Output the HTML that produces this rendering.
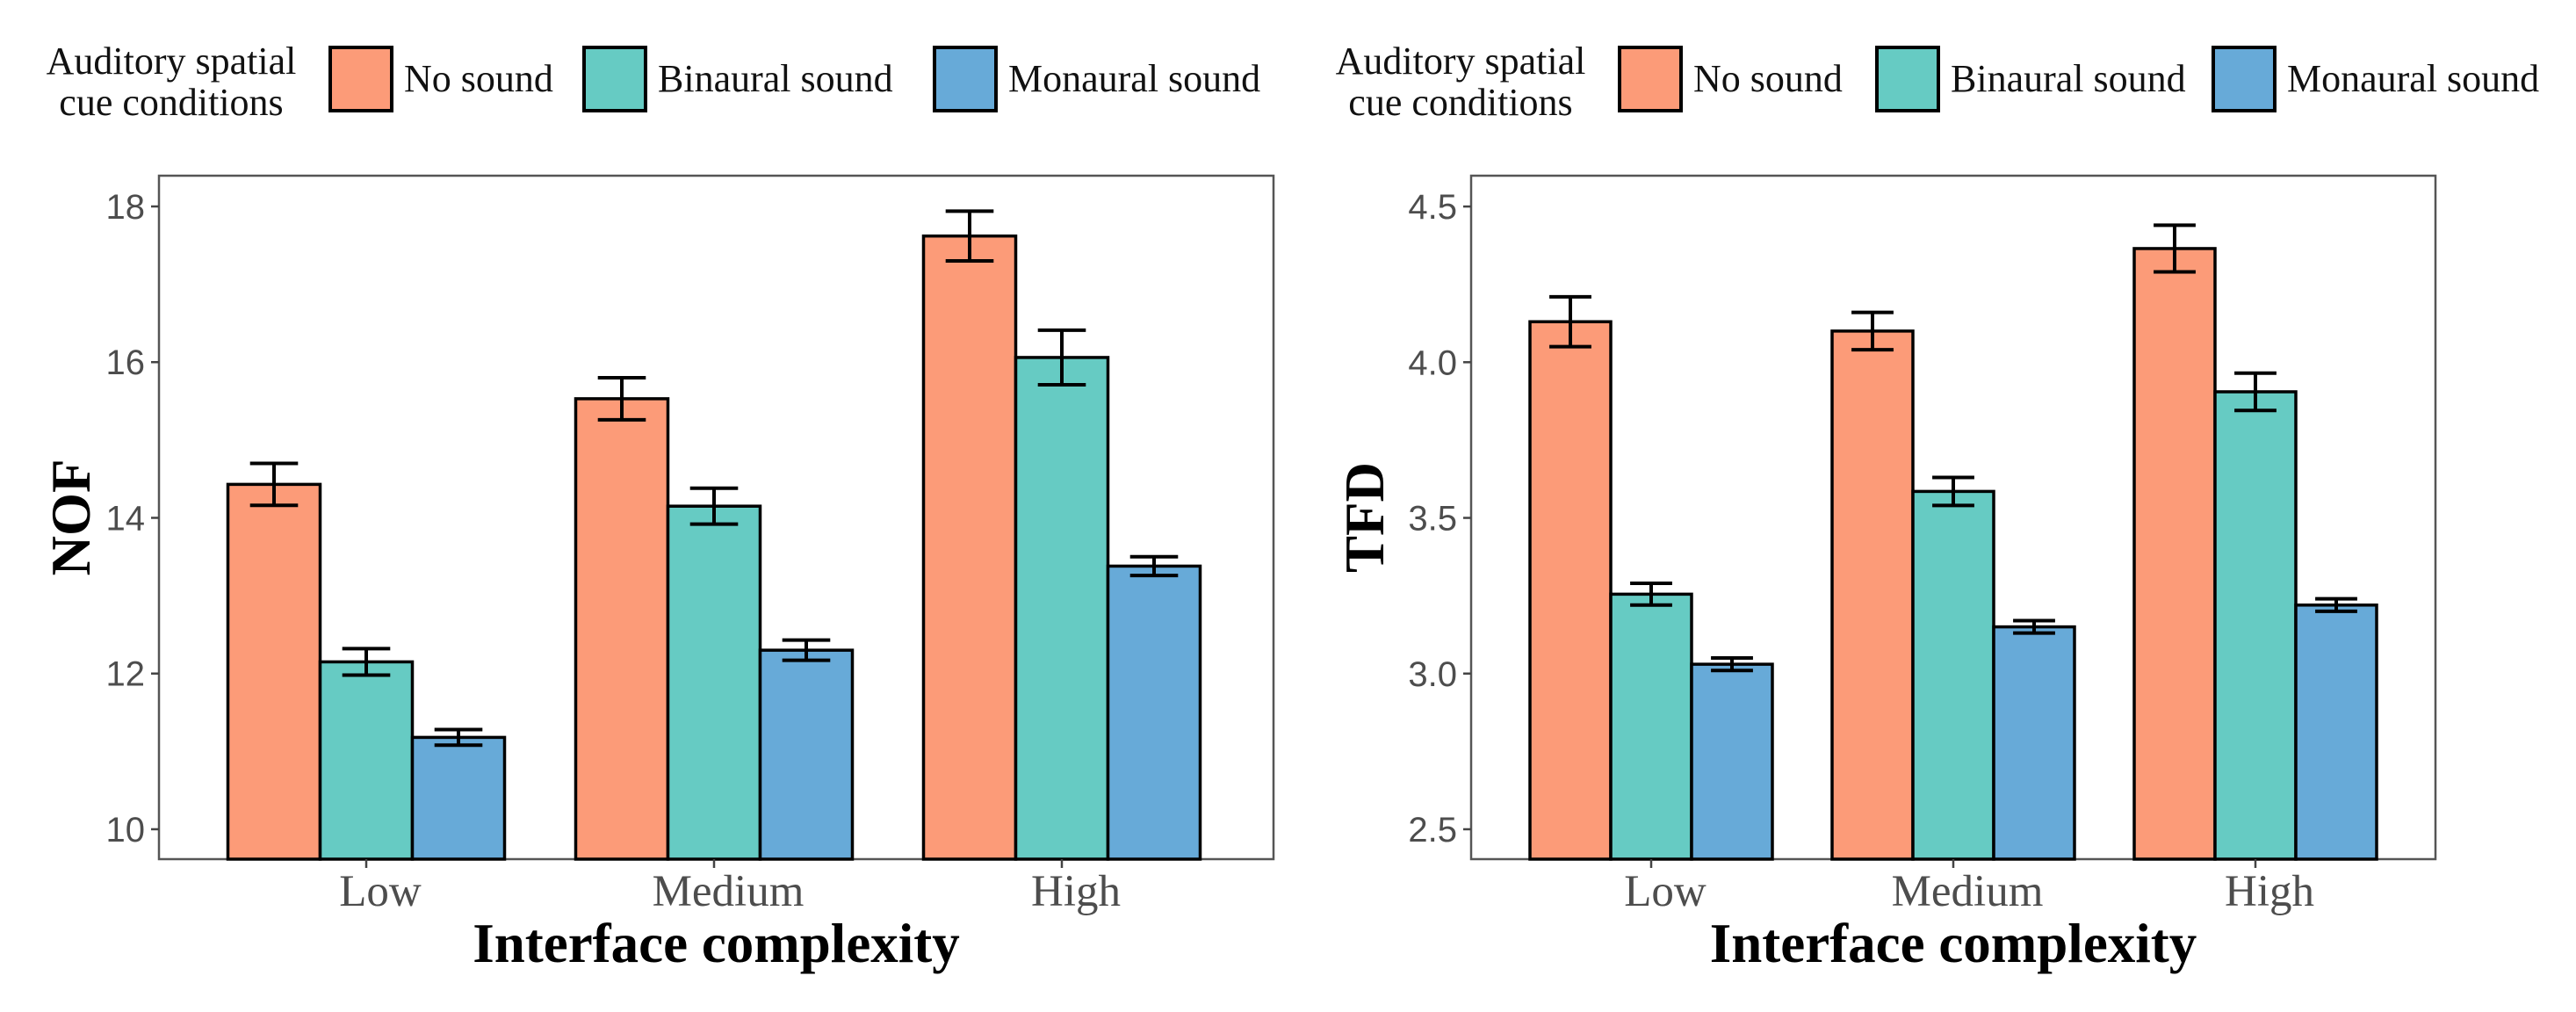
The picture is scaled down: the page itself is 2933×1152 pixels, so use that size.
<!DOCTYPE html>
<html><head><meta charset="utf-8">
<style>
html,body{margin:0;padding:0;background:#fff;}
svg{display:block;}
.lg{font-family:"Liberation Serif",serif;font-size:44px;fill:#111;}
.tk{font-family:"Liberation Sans Narrow","Liberation Sans",sans-serif;font-size:40px;fill:#4d4d4d;}
.xl{font-family:"Liberation Serif",serif;font-size:51px;fill:#4d4d4d;}
.ti{font-family:"Liberation Serif",serif;font-size:63px;font-weight:bold;fill:#000;}
</style></head>
<body>
<svg id="chart" width="2933" height="1152" viewBox="0 0 2933 1152" xmlns="http://www.w3.org/2000/svg"></svg>
<script>
const categories = ["Low","Medium","High"];
const seriesNames = ["No sound","Binaural sound","Monaural sound"];
const nofMeans = [[14.43,15.53,17.62],[12.15,14.15,16.06],[11.18,12.30,13.38]];
const nofErr = [[0.27,0.27,0.32],[0.17,0.23,0.35],[0.10,0.13,0.12]];
const nofTicks = [10,12,14,16,18];
const tfdMeans = [[4.13,4.10,4.365],[3.255,3.585,3.905],[3.03,3.15,3.22]];
const tfdErr = [[0.08,0.06,0.075],[0.035,0.045,0.06],[0.02,0.02,0.02]];
const tfdTicks = [2.5,3.0,3.5,4.0,4.5];
const tfdTickLabels = ["2.5","3.0","3.5","4.0","4.5"];
const nofTickLabels = ["10","12","14","16","18"];

const colors = ["#fc9b78","#66cbc3","#67aad8"];
const NS = "http://www.w3.org/2000/svg";
const svg = document.getElementById("chart");
function mk(tag, attrs, parent){
  const e = document.createElementNS(NS, tag);
  for (const k in attrs) e.setAttribute(k, attrs[k]);
  (parent||svg).appendChild(e);
  return e;
}

function panel(cfg){
  const g = mk("g", {});
  
  
  const top=200, bot=978;
  const y = v => bot - (v - cfg.ymin) / (cfg.ymax - cfg.ymin) * (bot - top);
  const xc = i => cfg.x0 + i * cfg.step;
  const lt = mk("text", {x: cfg.legX + 150, y: 84, "text-anchor":"middle", class:"lg"}, g);
  
  
  lt.textContent = "Auditory spatial";
  const lt2 = mk("text", {x: cfg.legX + 150, y: 131, "text-anchor":"middle", class:"lg"}, g);
  
  
  lt2.textContent = "cue conditions";
  seriesNames.forEach((s, k) => {
    const r = mk("rect", {x: cfg.legBoxes[k], y: 54, width: 70, height: 72, fill: colors[k], stroke:"#000", "stroke-width":4}, g);
    
    
    const t = mk("text", {x: cfg.legBoxes[k] + 84, y: 104, class:"lg"}, g);
    
    
    t.textContent = s;
  });
  const box = mk("rect", {x: cfg.bx0, y: top, width: cfg.bx1 - cfg.bx0, height: bot - top, fill:"none", stroke:"#555", "stroke-width":2.5}, g);
  
  
  cfg.ticks.forEach((v, i) => {
    const l = mk("line", {x1: cfg.bx0 - 9, x2: cfg.bx0, y1: y(v), y2: y(v), stroke:"#444", "stroke-width":2.5}, g);
    
    
    const t = mk("text", {x: cfg.bx0 - 16, y: y(v) + 14, "text-anchor":"end", class:"tk"}, g);
    
    
    t.textContent = cfg.tickLabels[i];
  });
  categories.forEach((c, i) => {
    seriesNames.forEach((s, k) => {
      const bx = xc(i) + (k - 1.5) * cfg.bw;
      const v = cfg.means[k][i], e = cfg.err[k][i];
      const b = mk("rect", {x: bx, y: y(v), width: cfg.bw, height: bot - y(v), fill: colors[k], stroke:"#000", "stroke-width":3.5}, g);
      
      
      const cx = bx + cfg.bw / 2, hw = cfg.bw * 0.26;
      const eb = mk("path", {d: `M${cx-hw},${y(v+e)}H${cx+hw}M${cx},${y(v+e)}V${y(v-e)}M${cx-hw},${y(v-e)}H${cx+hw}`, stroke:"#000", "stroke-width":4, fill:"none"}, g);
      
      
    });
    const tk = mk("line", {x1: xc(i), x2: xc(i), y1: bot, y2: bot + 10, stroke:"#444", "stroke-width":2.5}, g);
    
    
    const t = mk("text", {x: xc(i) + 16, y: 1031, "text-anchor":"middle", class:"xl"}, g);
    
    
    t.textContent = c;
  });
  const xt = mk("text", {x: (cfg.bx0 + cfg.bx1) / 2, y: 1095, "text-anchor":"middle", class:"ti"}, g);
  
  
  xt.textContent = "Interface complexity";
  const yt = mk("text", {x: cfg.ytx, y: (top + bot) / 2, "text-anchor":"middle", class:"ti", transform:`rotate(-90 ${cfg.ytx} ${(top+bot)/2})`}, g);
  
  
  yt.textContent = cfg.ytitle;
}

panel({name:"nof-panel", ymin:9.616, ymax:18.395, ticks:nofTicks, tickLabels:nofTickLabels, means:nofMeans, err:nofErr,
  bx0:181, bx1:1450, x0:417, step:396, bw:105, ytitle:"NOF", ytx:102,
  legX:45, legBoxes:[376,665,1064]});
panel({name:"tfd-panel", ymin:2.404, ymax:4.599, ticks:tfdTicks, tickLabels:tfdTickLabels, means:tfdMeans, err:tfdErr,
  bx0:1675, bx1:2773, x0:1880, step:344, bw:92, ytitle:"TFD", ytx:1575,
  legX:1513, legBoxes:[1844,2137,2520]});
</script>
</body></html>
